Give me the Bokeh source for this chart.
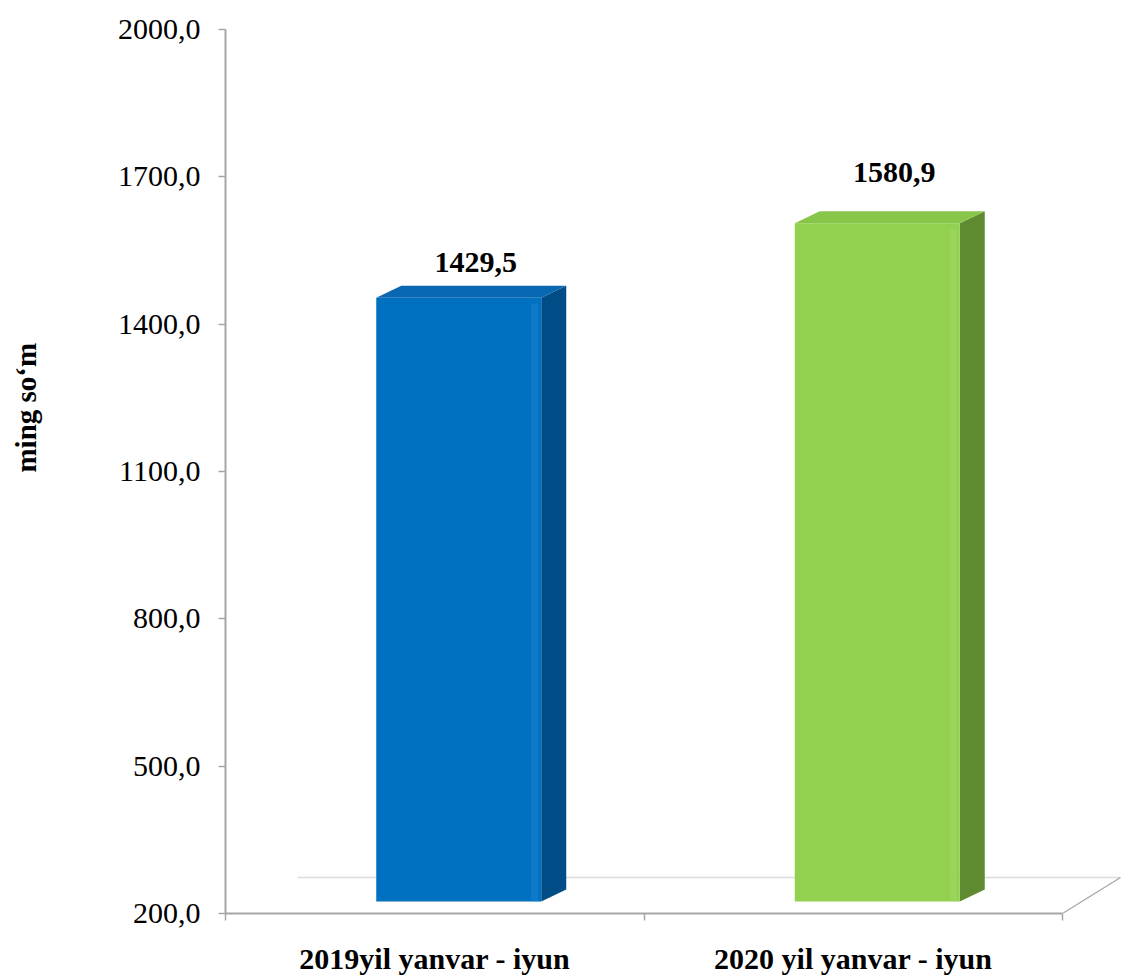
import math
from bokeh.plotting import figure
from bokeh.layouts import row
from bokeh.models import Range1d, FixedTicker, ColumnDataSource
from bokeh.embed import file_html
from bokeh.resources import INLINE
from bokeh.core.properties import value

# ---------------- data ----------------
categories = ["2019yil yanvar - iyun", "2020 yil yanvar - iyun"]
values = [1429.5, 1580.9]
value_labels = ["1429,5", "1580,9"]
y_ticks = [200, 500, 800, 1100, 1400, 1700, 2000]
y_tick_labels = ["200,0", "500,0", "800,0", "1100,0", "1400,0", "1700,0", "2000,0"]
axis_title = "ming so\u2018m"

# ---------------- styles ----------------
front_colors = ["#0070C0", "#92D050"]
side_colors = ["#004C86", "#5F8B30"]
top_colors = ["#0A68B2", "#88C649"]
shine_colors = ["#2A8BD4", "#A8DE6C"]
AXIS_GRAY = "#A6A6A6"
FLOOR_GRAY = "#DCDCDC"
FONT = "Liberation Serif"

W_TOTAL, H = 1125, 977
TITLE_W = 50            # narrow strip that holds the y title
W = W_TOTAL - TITLE_W
LEFT, TOP, BOTTOM, RIGHT = 225 - TITLE_W, 29, 64, 0
FRAME_W = W - LEFT - RIGHT
FRAME_H = H - TOP - BOTTOM
Y0, Y1 = y_ticks[0], y_ticks[-1]
PX_PER_Y = FRAME_H / (Y1 - Y0)
PX_PER_CAT = 418.5
X_END = FRAME_W / PX_PER_CAT

# 3-D look (pixel sizes converted to data units)
DX = 25 / PX_PER_CAT
DY = 12 / PX_PER_Y
BW = 165 / PX_PER_CAT
SHIFT = 24 / PX_PER_CAT
FDX = 58 / PX_PER_CAT
FDY = 36 / PX_PER_Y
FLOOR_START = 72 / PX_PER_CAT
SHINE_W = 7 / PX_PER_CAT
SHINE_IN = 3 / PX_PER_CAT
LABEL_LIFT_PX = [47, 63]
LABEL_SHIFT_PX = 17
TITLE_CX, TITLE_CY = 25, 418   # centre of y title in picture pixels

# ---------------- title strip ----------------
t = figure(width=TITLE_W, height=H, output_backend="svg", toolbar_location=None,
           x_range=Range1d(0, TITLE_W), y_range=Range1d(0, H),
           min_border=0, outline_line_color=None, border_fill_color="white")
t.axis.visible = False
t.grid.visible = False
t.text(x=[TITLE_CX], y=[H - TITLE_CY], text=[axis_title], angle=math.pi / 2,
       text_font=value(FONT), text_font_size="29px", text_font_style="bold",
       text_color="black", text_align="center", text_baseline="middle")

# ---------------- main chart ----------------
p = figure(width=W, height=H, output_backend="svg", toolbar_location=None,
           x_range=Range1d(0, X_END), y_range=Range1d(Y0, Y1),
           min_border_left=LEFT, min_border_top=TOP, min_border_bottom=BOTTOM,
           min_border_right=RIGHT, outline_line_color=None,
           background_fill_color="white", border_fill_color="white")
p.xgrid.visible = False
p.ygrid.visible = False

# floor
p.line([FLOOR_START, 2 + FDX], [Y0 + FDY, Y0 + FDY], line_color=FLOOR_GRAY, line_width=1.5)
p.line([2, 2 + FDX], [Y0, Y0 + FDY], line_color=AXIS_GRAY, line_width=1.2)

# bars
for i, v in enumerate(values):
    l = i + 0.5 + SHIFT - BW / 2
    r = l + BW
    p.patch([r, r + DX, r + DX, r], [Y0 + DY, Y0 + 2 * DY, v + 2 * DY, v + DY],
            fill_color=side_colors[i], line_color=None)
    p.patch([l, r, r, l], [Y0 + DY, Y0 + DY, v + DY, v + DY],
            fill_color=front_colors[i], line_color=None)
    p.patch([r - SHINE_IN - SHINE_W, r - SHINE_IN, r - SHINE_IN, r - SHINE_IN - SHINE_W],
            [Y0 + DY, Y0 + DY, v + DY - 6 / PX_PER_Y, v + DY - 6 / PX_PER_Y],
            fill_color=shine_colors[i], fill_alpha=0.35, line_color=None)
    p.patch([l, r, r + DX, l + DX], [v + DY, v + DY, v + 2 * DY, v + 2 * DY],
            fill_color=top_colors[i], line_color=None)

# value labels
lab_src = ColumnDataSource(dict(
    x=[i + 0.5 + SHIFT + LABEL_SHIFT_PX / PX_PER_CAT for i in range(len(values))],
    y=[v + lift / PX_PER_Y for v, lift in zip(values, LABEL_LIFT_PX)],
    t=value_labels))
p.text(x="x", y="y", text="t", source=lab_src, text_font=value(FONT),
       text_font_size="30px", text_font_style="bold", text_color="black",
       text_align="center", text_baseline="middle")

# y axis
yax = p.yaxis[0]
yax.ticker = FixedTicker(ticks=y_ticks)
yax.major_label_overrides = {tk: s for tk, s in zip(y_ticks, y_tick_labels)}
yax.minor_tick_line_color = None
yax.minor_tick_out = 0
yax.major_tick_in = 0
yax.major_tick_out = 7
yax.major_tick_line_color = AXIS_GRAY
yax.major_tick_line_width = 1.5
yax.axis_line_color = AXIS_GRAY
yax.axis_line_width = 2
yax.major_label_standoff = 18
yax.major_label_text_font = FONT
yax.major_label_text_font_size = "30px"
yax.major_label_text_color = "black"

# x axis
xax = p.xaxis[0]
xax.ticker = FixedTicker(ticks=[i + 0.5 for i in range(len(categories))],
                         minor_ticks=list(range(len(categories) + 1)))
xax.major_label_overrides = {i + 0.5: c for i, c in enumerate(categories)}
xax.bounds = (0, len(categories))
xax.axis_line_color = AXIS_GRAY
xax.axis_line_width = 2
xax.major_tick_line_color = None
xax.major_tick_out = 0
xax.major_tick_in = 0
xax.minor_tick_line_color = AXIS_GRAY
xax.minor_tick_line_width = 1.5
xax.minor_tick_in = 0
xax.minor_tick_out = 7
xax.major_label_standoff = 21
xax.major_label_text_font = FONT
xax.major_label_text_font_size = "30px"
xax.major_label_text_font_style = "bold"
xax.major_label_text_color = "black"

layout = row(t, p, spacing=0)
open("out.html", "w").write(file_html(layout, INLINE))
